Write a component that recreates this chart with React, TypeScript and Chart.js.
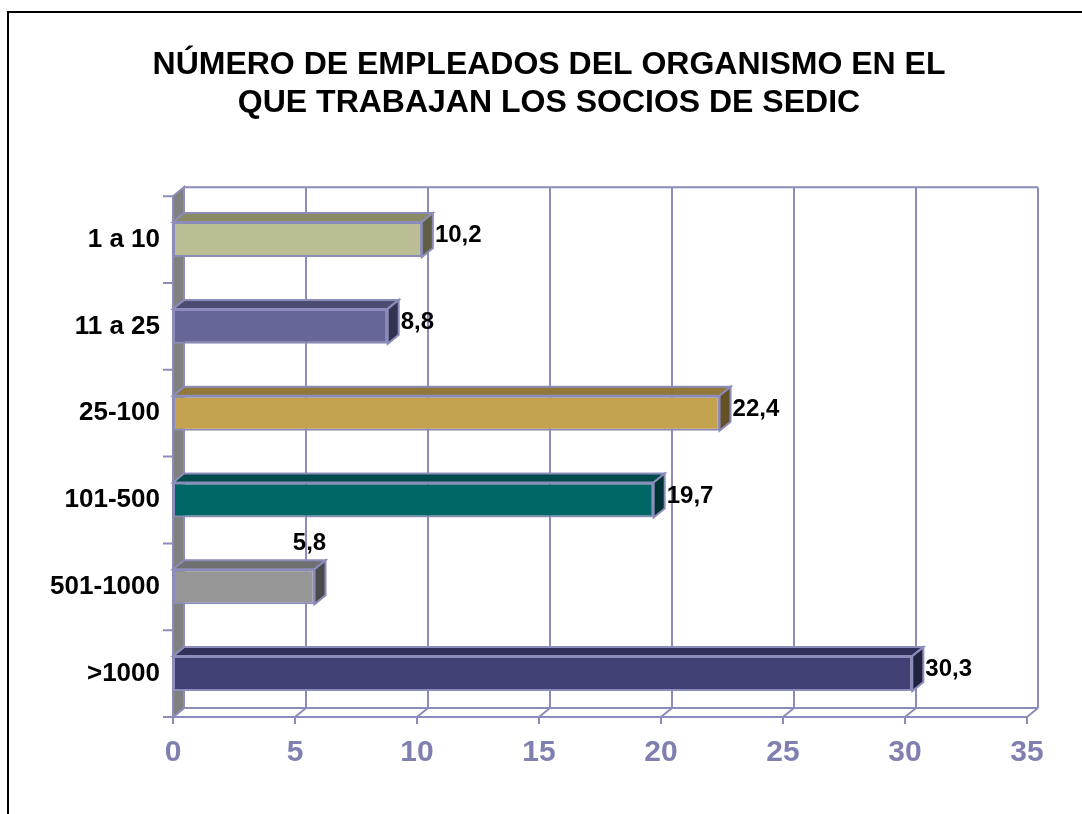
import React, { useEffect, useRef } from 'react';
import { Chart, registerables } from 'chart.js';

Chart.register(...registerables);

const categories = ['1 a 10', '11 a 25', '25-100', '101-500', '501-1000', '>1000'];
const values = [10.2, 8.8, 22.4, 19.7, 5.8, 30.3];
const frontColors = ['#BBBD94', '#666699', '#C4A250', '#006666', '#969696', '#404075'];
const topColors = ['#8A8B64', '#4C4C73', '#927838', '#004C4C', '#707070', '#30305A'];
const sideColors = ['#5E5F44', '#33334F', '#645226', '#003333', '#4B4B4B', '#22223E'];
const titleLines = ['NÚMERO DE EMPLEADOS DEL ORGANISMO EN EL', 'QUE TRABAJAN LOS SOCIOS DE SEDIC'];
const xMin = 0;
const xMax = 35;
const xStep = 5;

const FONT = '"Liberation Sans", Arial, Helvetica, sans-serif';
const DX = 11;
const DY = -9;
const GRID = '#8C8CBA';
const CANVAS_W = 1098;
const CANVAS_H = 814;

const fmt = (v: number) => v.toFixed(1).replace('.', ',');

const threeD = {
  id: 'threeD',
  beforeDatasetsDraw(chart: any) {
    const { ctx, chartArea: a, scales } = chart;
    const x = scales.x;
    const y = scales.y;
    ctx.save();
    ctx.strokeStyle = GRID;
    ctx.lineWidth = 2;
    ctx.lineCap = 'butt';
    ctx.beginPath();
    for (const t of x.ticks) {
      const px = x.getPixelForValue(t.value);
      if (t.value !== xMin) {
        ctx.moveTo(px + DX, a.top + DY);
        ctx.lineTo(px + DX, a.bottom + DY);
      }
      ctx.moveTo(px, a.bottom);
      ctx.lineTo(px + DX, a.bottom + DY);
      ctx.moveTo(px, a.bottom);
      ctx.lineTo(px, a.bottom + 7);
    }
    ctx.moveTo(a.left + DX, a.top + DY);
    ctx.lineTo(a.right + DX, a.top + DY);
    ctx.moveTo(a.left + DX, a.bottom + DY);
    ctx.lineTo(a.right + DX, a.bottom + DY);
    ctx.moveTo(a.left - 10, a.bottom);
    ctx.lineTo(a.right, a.bottom);
    ctx.stroke();

    // left wall
    ctx.beginPath();
    ctx.moveTo(a.left, a.top);
    ctx.lineTo(a.left + DX, a.top + DY);
    ctx.lineTo(a.left + DX, a.bottom + DY);
    ctx.lineTo(a.left, a.bottom);
    ctx.closePath();
    ctx.fillStyle = '#808080';
    ctx.fill();
    ctx.stroke();

    // category tick marks
    ctx.beginPath();
    for (let i = 0; i <= categories.length; i++) {
      const py = y.getPixelForValue(i - 0.5);
      ctx.moveTo(a.left - 10, py);
      ctx.lineTo(a.left, py);
    }
    ctx.stroke();
    ctx.restore();
  },
  afterDatasetsDraw(chart: any) {
    const { ctx } = chart;
    const meta = chart.getDatasetMeta(0);
    ctx.save();
    ctx.strokeStyle = GRID;
    ctx.lineWidth = 2;
    ctx.lineJoin = 'miter';
    meta.data.forEach((bar: any, i: number) => {
      const { x: xv, y: yc, base, height } = bar.getProps(['x', 'y', 'base', 'height'], true);
      const y0 = yc - height / 2;
      const y1 = yc + height / 2;
      ctx.beginPath();
      ctx.moveTo(base, y0);
      ctx.lineTo(base + DX, y0 + DY);
      ctx.lineTo(xv + DX, y0 + DY);
      ctx.lineTo(xv, y0);
      ctx.closePath();
      ctx.fillStyle = topColors[i];
      ctx.fill();
      ctx.stroke();

      ctx.beginPath();
      ctx.moveTo(xv, y0);
      ctx.lineTo(xv + DX, y0 + DY);
      ctx.lineTo(xv + DX, y1 + DY);
      ctx.lineTo(xv, y1);
      ctx.closePath();
      ctx.fillStyle = sideColors[i];
      ctx.fill();
      ctx.stroke();

      ctx.fillStyle = '#000';
      ctx.font = `bold 24px ${FONT}`;
      ctx.textBaseline = 'middle';
      const txt = fmt(values[i]);
      if (i === 4) {
        ctx.textAlign = 'center';
        ctx.fillText(txt, xv - 5, y0 + DY - 17);
      } else {
        ctx.textAlign = 'left';
        ctx.fillText(txt, xv + DX + 2, yc - 4);
      }
    });
    ctx.restore();
  },
  afterDraw(chart: any) {
    const { ctx, width, height } = chart;
    ctx.save();
    ctx.strokeStyle = '#000';
    ctx.lineWidth = 2;
    ctx.beginPath();
    ctx.moveTo(8, height + 2);
    ctx.lineTo(8, 12);
    ctx.lineTo(width + 2, 12);
    ctx.stroke();
    ctx.restore();
  },
};

export default function App() {
  const ref = useRef<HTMLCanvasElement | null>(null);
  useEffect(() => {
    if (!ref.current) return;
    Chart.defaults.font.family = FONT;
    const chart = new Chart(ref.current, {
      type: 'bar',
      data: {
        labels: categories,
        datasets: [
          {
            data: values,
            backgroundColor: frontColors,
            borderColor: GRID,
            borderWidth: 2,
            borderSkipped: false,
            categoryPercentage: 1,
            barPercentage: 0.403,
          },
        ],
      },
      options: {
        indexAxis: 'y',
        animation: false,
        responsive: false,
        devicePixelRatio: 1,
        layout: { padding: { left: 0, right: 0, top: 0, bottom: 0 } },
        plugins: {
          legend: { display: false },
          tooltip: { enabled: false },
          title: {
            display: true,
            text: titleLines,
            color: '#000',
            font: { family: FONT, size: 32, weight: 'bold', lineHeight: 1.19 },
            padding: { top: 46, bottom: 74 },
          },
        },
        scales: {
          x: {
            type: 'linear',
            min: xMin,
            max: xMax,
            ticks: {
              stepSize: xStep,
              color: '#8080B0',
              font: { family: FONT, size: 30, weight: 'bold' },
              padding: 18,
              maxRotation: 0,
            },
            grid: { display: false, drawTicks: false },
            border: { display: false },
            afterFit(s: any) {
              s.height = 97;
            },
          },
          y: {
            ticks: {
              color: '#000',
              font: { family: FONT, size: 26, weight: 'bold' },
              padding: 13,
            },
            grid: { display: false, drawTicks: false },
            border: { display: false },
            afterFit(s: any) {
              s.width = 173;
            },
          },
          spacer: {
            type: 'linear',
            axis: 'y',
            position: 'right',
            display: true,
            ticks: { display: false },
            grid: { display: false, drawTicks: false },
            border: { display: false },
            afterFit(s: any) {
              s.width = 71;
            },
          },
        },
      },
      plugins: [threeD],
    } as any);
    return () => chart.destroy();
  }, []);
  return (
    <div style={{ position: 'absolute', left: 0, top: 0, width: 1082, height: 814, overflow: 'hidden', background: '#fff' }}>
      <canvas ref={ref} width={CANVAS_W} height={CANVAS_H} style={{ display: 'block' }} />
    </div>
  );
}
